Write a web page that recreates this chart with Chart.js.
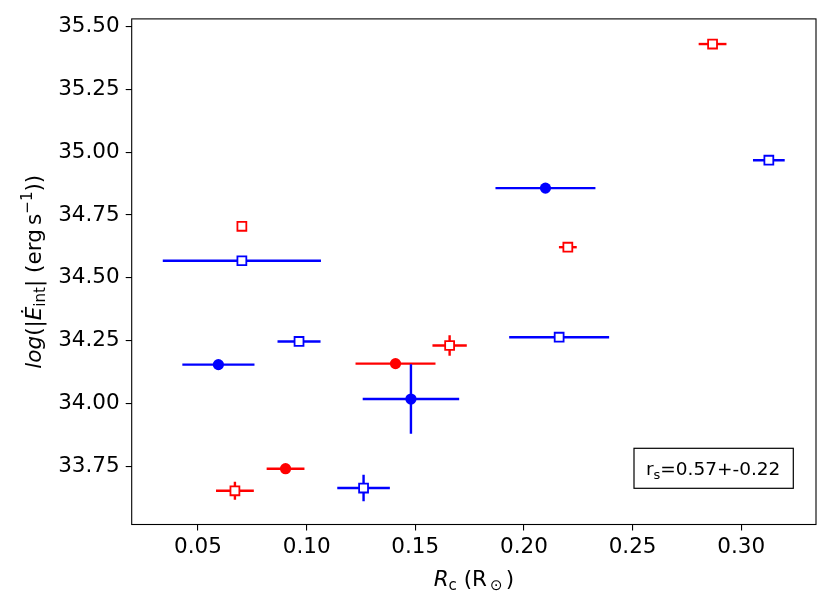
<!DOCTYPE html>
<html>
<head>
<meta charset="utf-8">
<script src="https://cdn.jsdelivr.net/npm/chart.js@4.4.1/dist/chart.umd.min.js"></script>
<style>
  body { margin: 0; background: #fff; }
  #wrap { width: 830px; height: 607px; }
</style>
</head>
<body>
<div id="wrap"><canvas id="myChart" width="830" height="607"></canvas></div>
<script>
    // values
    const redOpenX = [0.2868, 0.0702, 0.2202, 0.1658, 0.0670];
    const redOpenY = [35.430, 34.705, 34.622, 34.231, 33.653];
    const redOpenXErr = [0.0064, 0, 0.0041, 0.0079, 0.0087];
    const redOpenYErr = [0, 0, 0, 0.041, 0.036];

    const redFilledX = [0.1409, 0.0903];
    const redFilledY = [34.159, 33.741];
    const redFilledXErr = [0.0184, 0.0087];
    const redFilledYErr = [0, 0];

    const blueOpenX = [0.3127, 0.0702, 0.0965, 0.2162, 0.1262];
    const blueOpenY = [34.968, 34.568, 34.247, 34.264, 33.664];
    const blueOpenXErr = [0.0073, 0.0364, 0.0099, 0.0230, 0.0121];
    const blueOpenYErr = [0, 0, 0, 0, 0.053];

    const blueFilledX = [0.2099, 0.0594, 0.1480];
    const blueFilledY = [34.857, 34.155, 34.018];
    const blueFilledXErr = [0.0230, 0.0166, 0.0222];
    const blueFilledYErr = [0, 0, 0.138];

    const xRange = [0.0195, 0.3344];
    const yRange = [33.519, 35.530];
    const xStep = 0.05;
    const yStep = 0.25;
    const statText = ['r', 's', '=0.57+-0.22'];

    const FONT = 'DejaVu Sans';
    const FS = 21.5;

    function points(xs, ys) {
      return xs.map((x, i) => ({ x: x, y: ys[i] }));
    }

    function openSet(xs, ys, ex, ey, color) {
      return {
        data: points(xs, ys), errX: ex, errY: ey, errColor: color,
        pointStyle: 'rect', pointRadius: 6.3,
        pointBackgroundColor: '#fff', pointBorderColor: color,
        pointBorderWidth: 1.8, showLine: false
      };
    }

    function filledSet(xs, ys, ex, ey, color) {
      return {
        data: points(xs, ys), errX: ex, errY: ey, errColor: color,
        pointStyle: 'circle', pointRadius: 5.6,
        pointBackgroundColor: color, pointBorderColor: color,
        pointBorderWidth: 0, showLine: false
      };
    }

    const datasets = [
      openSet(redOpenX, redOpenY, redOpenXErr, redOpenYErr, '#ff0000'),
      filledSet(redFilledX, redFilledY, redFilledXErr, redFilledYErr, '#ff0000'),
      openSet(blueOpenX, blueOpenY, blueOpenXErr, blueOpenYErr, '#0000ff'),
      filledSet(blueFilledX, blueFilledY, blueFilledXErr, blueFilledYErr, '#0000ff'),
    ];

    // draws a row of text pieces (sub/superscripts) centred on x
    function richText(ctx, parts, cx, baseline) {
      let total = 0;
      parts.forEach(p => {
        ctx.font = (p.italic ? 'oblique ' : '') + p.size + 'px "' + FONT + '"';
        p.w = ctx.measureText(p.t).width;
        total += p.w;
      });
      let x = cx - total / 2;
      parts.forEach(p => {
        ctx.font = (p.italic ? 'oblique ' : '') + p.size + 'px "' + FONT + '"';
        ctx.fillText(p.t, x, baseline + (p.dy || 0));
        x += p.w;
      });
    }

    const errorBars = {
      id: 'errorBars',
      beforeDatasetsDraw(chart) {
        const ctx = chart.ctx;
        const xs = chart.scales.x, ys = chart.scales.y;
        ctx.save();
        ctx.lineWidth = 2.4;
        chart.data.datasets.forEach(ds => {
          ctx.strokeStyle = ds.errColor;
          ds.data.forEach((p, i) => {
            const px = xs.getPixelForValue(p.x), py = ys.getPixelForValue(p.y);
            const ex = ds.errX[i], ey = ds.errY[i];
            ctx.beginPath();
            if (ex > 0) {
              ctx.moveTo(xs.getPixelForValue(p.x - ex), py);
              ctx.lineTo(xs.getPixelForValue(p.x + ex), py);
            }
            if (ey > 0) {
              ctx.moveTo(px, ys.getPixelForValue(p.y - ey));
              ctx.lineTo(px, ys.getPixelForValue(p.y + ey));
            }
            ctx.stroke();
          });
        });
        ctx.restore();
      },
      afterDraw(chart) {
        const ctx = chart.ctx;
        const a = chart.chartArea;
        ctx.save();
        // frame
        ctx.strokeStyle = '#000';
        ctx.lineWidth = 1.1;
        ctx.strokeRect(a.left, a.top, a.right - a.left, a.bottom - a.top);

        ctx.fillStyle = '#000';
        ctx.textBaseline = 'alphabetic';
        ctx.textAlign = 'left';

        // x axis title
        richText(ctx, [
          { t: 'R', size: FS, italic: true },
          { t: 'c', size: FS * 0.7, dy: FS * 0.2 },
          { t: ' (R', size: FS },
          { t: '\u2009\u2299\u2009', size: FS * 0.7, dy: FS * 0.2 },
          { t: ')', size: FS }
        ], (a.left + a.right) / 2, 585.5);

        // y axis title
        ctx.save();
        ctx.translate(41, (a.top + a.bottom) / 2);
        ctx.rotate(-Math.PI / 2);
        richText(ctx, [
          { t: 'log', size: FS, italic: true },
          { t: '(|', size: FS },
          { t: '\u0116', size: FS, italic: true },
          { t: 'int', size: FS * 0.7, dy: FS * 0.2 },
          { t: '| (erg\u2009s', size: FS },
          { t: '\u22121', size: FS * 0.7, dy: -FS * 0.42 },
          { t: '))', size: FS }
        ], 0, 0);
        ctx.restore();

        // statistics box
        const bw = 159.3, bh = 40;
        const bx = a.right - 22.7 - bw, by = a.bottom - 36.2 - bh;
        ctx.fillStyle = '#fff';
        ctx.fillRect(bx, by, bw, bh);
        ctx.strokeStyle = '#000';
        ctx.lineWidth = 1.2;
        ctx.strokeRect(bx, by, bw, bh);
        ctx.fillStyle = '#000';
        richText(ctx, [
          { t: statText[0], size: 18.5 },
          { t: statText[1], size: 13, dy: 3.7 },
          { t: statText[2], size: 18.5 }
        ], bx + bw / 2 - 0.5, by + 26.7);
        ctx.restore();
      }
    };

    Chart.defaults.color = '#000';
    Chart.defaults.font.family = FONT;

    const config = {
      type: 'scatter',
      data: { datasets: datasets },
      options: {
        responsive: false,
        animation: false,
        events: [],
        layout: { padding: { top: 14.7, right: 14, left: 0, bottom: 0 } },
        scales: {
          x: {
            type: 'linear',
            min: xRange[0],
            max: xRange[1],
            border: { display: false },
            grid: { drawOnChartArea: false, drawTicks: true, tickLength: 6, tickColor: '#000', lineWidth: 1.1 },
            ticks: {
              stepSize: xStep,
              includeBounds: false,
              padding: 4,
              font: { size: FS },
              maxRotation: 0,
              callback: (v) => v.toFixed(2)
            },
            afterFit: (scale) => { scale.height = 82.5; }
          },
          y: {
            type: 'linear',
            min: yRange[0],
            max: yRange[1],
            border: { display: false },
            grid: { drawOnChartArea: false, drawTicks: true, tickLength: 6, tickColor: '#000', lineWidth: 1.1 },
            ticks: {
              stepSize: yStep,
              includeBounds: false,
              padding: 6,
              font: { size: FS },
              callback: (v) => v.toFixed(2)
            },
            afterFit: (scale) => { scale.width = 131.7; }
          }
        },
        plugins: {
          legend: { display: false },
          tooltip: { enabled: false }
        }
      },
      plugins: [errorBars]
    };

    const myChart = new Chart(document.getElementById('myChart'), config);
</script>
</body>
</html>
